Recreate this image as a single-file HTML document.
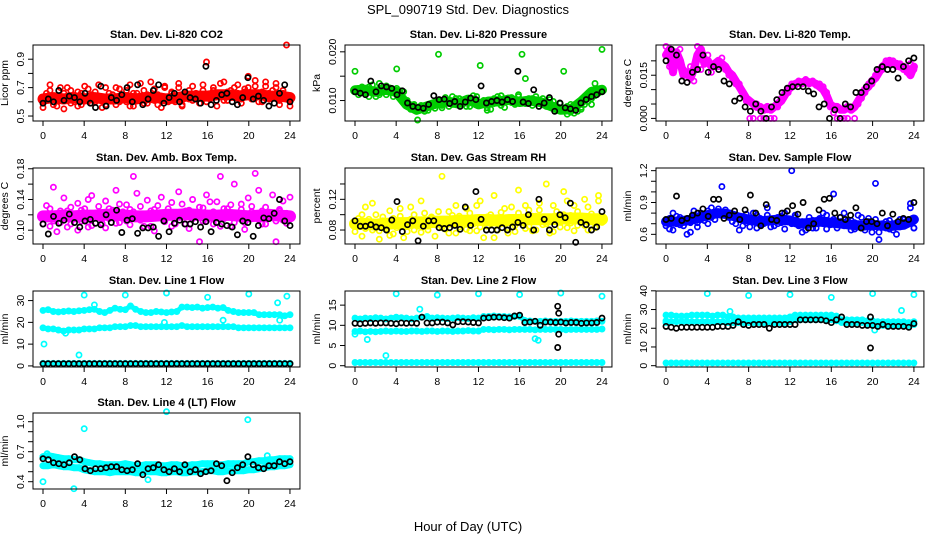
<!DOCTYPE html>
<html><head><meta charset="utf-8">
<style>
html,body{margin:0;padding:0;background:#fff;}
svg{display:block;font-family:"Liberation Sans",sans-serif;}
</style></head>
<body>
<svg id="chart" width="936" height="540" viewBox="0 0 936 540" xmlns="http://www.w3.org/2000/svg">
<rect x="0" y="0" width="936" height="540" fill="#fff"/>
<text x="468" y="14" text-anchor="middle" font-size="13">SPL_090719  Std. Dev. Diagnostics</text>
<text x="468" y="531" text-anchor="middle" font-size="13">Hour of Day (UTC)</text>
</svg>
<script>
// ---------- DATA ----------
const hourTicks = [0,4,8,12,16,20,24];

const co2Center = [0.62,0.63,0.62,0.63,0.62,0.63,0.62,0.62,0.63,0.62,0.63,0.63,0.62,0.63,0.64,0.64,0.64,0.65,0.65,0.64,0.65,0.65,0.64,0.64,0.63];
const co2A = [0.60,0.66,0.72,0.58,0.63,0.70,0.55,0.64,0.68,0.60,0.57,0.66,0.71,0.62,0.59,0.67,0.64,0.56,0.70,0.61,0.65,0.58,0.69,0.63,0.60,0.72,0.57,0.66,0.62,0.68,0.59,0.74,0.61,0.65,0.56,0.70,0.63,0.67,0.60,0.73,0.58,0.66,0.62,0.71,0.64,0.59,0.68,0.88,0.63,0.70,0.57,0.66,0.74,0.61,0.68,0.64,0.72,0.59,0.67,0.70,0.62,0.75,0.65,0.60,0.71,0.66,0.63,0.73,0.58,0.68,0.64,0.62];
const co2B = [0.56,0.62,0.68,0.64,0.57,0.61,0.66,0.70,0.59,0.63,0.67,0.58,0.62,0.69,0.65,0.60,0.72,0.63,0.58,0.66,0.62,0.70,0.60,0.64,0.68,0.57,0.66,0.61,0.73,0.59,0.65,0.62,0.69,0.58,0.64,0.71,0.60,0.66,0.63,0.70,0.57,0.64,0.68,0.61,0.66,0.63,0.72,0.60,0.62,0.68,0.65,0.73,0.61,0.67,0.63,0.70,0.66,0.62,0.69,0.78,0.64,0.71,0.60,0.67,0.74,0.62,0.68,0.70,0.61,0.66,1.0,0.57];
const co2Black = [0.59,0.62,0.60,0.68,0.61,0.64,0.63,0.60,0.66,0.59,0.56,0.71,0.57,0.63,0.61,0.65,0.70,0.60,0.72,0.58,0.62,0.68,0.72,0.59,0.63,0.66,0.60,0.67,0.63,0.62,0.59,0.85,0.58,0.61,0.65,0.66,0.60,0.58,0.63,0.77,0.62,0.64,0.61,0.57,0.59,0.66,0.72,0.60];

const presCenter = [0.0121,0.0122,0.0118,0.0122,0.0118,0.0092,0.0081,0.0088,0.0095,0.0098,0.0094,0.0102,0.0092,0.0098,0.0098,0.0102,0.0097,0.0100,0.0097,0.0089,0.0081,0.0082,0.0098,0.0118,0.0122];
const presA = [0.0120,0.0125,0.0118,0.0115,0.0128,0.0122,0.0118,0.0112,0.0125,0.0130,0.0120,0.0116,0.0125,0.0112,0.0118,0.0095,0.0088,0.0092,0.0080,0.0085,0.0078,0.0088,0.0092,0.0084,0.0095,0.0090,0.0100,0.0098,0.0092,0.0104,0.0095,0.0100,0.0088,0.0102,0.0096,0.0108,0.0092,0.0100,0.0085,0.0098,0.0094,0.0102,0.0090,0.0100,0.0105,0.0096,0.0102,0.0108,0.0100,0.0094,0.0098,0.0104,0.0096,0.0100,0.0092,0.0098,0.0102,0.0090,0.0084,0.0094,0.0080,0.0088,0.0076,0.0082,0.0078,0.0086,0.0092,0.0098,0.0104,0.0110,0.0118,0.0125];
const presB = [0.0160,0.0112,0.0128,0.0125,0.0108,0.0132,0.0108,0.0135,0.0120,0.0112,0.0126,0.0108,0.0165,0.0120,0.0105,0.0100,0.0082,0.0090,0.0060,0.0090,0.0082,0.0080,0.0094,0.0090,0.0195,0.0085,0.0106,0.0088,0.0108,0.0096,0.0104,0.0092,0.0098,0.0088,0.0110,0.0100,0.0172,0.0094,0.0080,0.0082,0.0104,0.0108,0.0110,0.0086,0.0098,0.0106,0.0092,0.0112,0.0195,0.0145,0.0104,0.0090,0.0108,0.0096,0.0104,0.0088,0.0096,0.0098,0.0088,0.0082,0.0160,0.0072,0.0092,0.0074,0.0090,0.0082,0.0102,0.0112,0.0092,0.0135,0.0115,0.0205];
const presBlack = [0.0118,0.0115,0.0112,0.0140,0.0118,0.0130,0.0128,0.0125,0.0112,0.0120,0.0095,0.0088,0.0086,0.0084,0.0092,0.0110,0.0102,0.0103,0.0094,0.0098,0.0088,0.0097,0.0105,0.0102,0.0130,0.0095,0.0098,0.0100,0.0097,0.0102,0.0098,0.0160,0.0097,0.0094,0.0122,0.0088,0.0095,0.0106,0.0078,0.0095,0.0085,0.0083,0.0080,0.0095,0.0102,0.0108,0.0112,0.0118];

const tempA = [0.022,0.024,0.016,0.023,0.020,0.015,0.016,0.014,0.017,0.022,0.024,0.019,0.020,0.018,0.019,0.020,0.019,0.018,0.016,0.015,0.013,0.011,0.009,0.007,0.006,0.005,0.004,0.004,0.003,0.004,0.003,0.004,0.005,0.006,0.008,0.010,0.011,0.012,0.0125,0.0125,0.013,0.0125,0.0125,0.012,0.011,0.010,0.008,0.005,0.004,0.004,0.003,0.003,0.004,0.003,0.004,0.006,0.008,0.010,0.011,0.013,0.014,0.016,0.018,0.019,0.020,0.019,0.019,0.018,0.018,0.017,0.015,0.018];
const tempB = [0.025,0.018,0.021,0.019,0.024,0.017,0.015,0.018,0.013,0.025,0.017,0.021,0.022,0.016,0.018,0.018,0.021,0.017,0.015,0.014,0.012,0.012,0.008,0.006,0.000,0.000,0.005,0.000,0.000,0.003,0.000,0.000,0.004,0.007,0.009,0.009,0.012,0.0115,0.013,0.012,0.0135,0.012,0.013,0.0115,0.012,0.011,0.009,0.004,0.002,0.000,0.000,0.000,0.000,0.004,0.000,0.005,0.007,0.009,0.012,0.012,0.015,0.017,0.017,0.020,0.019,0.020,0.018,0.019,0.017,0.016,0.019,0.017];
const tempBlack = [0.020,0.024,0.022,0.013,0.0125,0.016,0.017,0.022,0.016,0.018,0.017,0.013,0.012,0.006,0.007,0.004,0.0025,0.005,0.0025,0.000,0.004,0.0065,0.009,0.0105,0.011,0.011,0.011,0.0095,0.0085,0.004,0.005,0.000,0.003,0.000,0.005,0.004,0.009,0.009,0.011,0.013,0.017,0.018,0.017,0.017,0.014,0.018,0.020,0.021];

const ambCenter = [0.118,0.118,0.119,0.118,0.119,0.119,0.120,0.120,0.119,0.118,0.118,0.119,0.120,0.120,0.121,0.120,0.119,0.119,0.120,0.119,0.118,0.119,0.120,0.119,0.118];
const ambA = [0.115,0.132,0.105,0.156,0.120,0.110,0.142,0.125,0.108,0.118,0.135,0.112,0.128,0.104,0.145,0.118,0.122,0.109,0.138,0.115,0.126,0.152,0.110,0.119,0.133,0.107,0.124,0.148,0.113,0.120,0.139,0.105,0.127,0.116,0.143,0.111,0.122,0.136,0.108,0.150,0.119,0.125,0.102,0.140,0.117,0.130,0.112,0.146,0.121,0.108,0.137,0.170,0.115,0.128,0.105,0.160,0.119,0.134,0.110,0.142,0.124,0.117,0.152,0.108,0.130,0.120,0.146,0.112,0.125,0.138,0.109,0.143];
const ambB = [0.108,0.120,0.128,0.112,0.098,0.125,0.117,0.104,0.130,0.121,0.100,0.126,0.113,0.140,0.106,0.122,0.131,0.115,0.103,0.128,0.119,0.109,0.134,0.124,0.112,0.127,0.170,0.118,0.131,0.105,0.116,0.125,0.099,0.132,0.121,0.114,0.128,0.105,0.123,0.117,0.134,0.108,0.126,0.115,0.120,0.085,0.129,0.112,0.137,0.124,0.116,0.105,0.128,0.118,0.133,0.110,0.122,0.127,0.101,0.119,0.131,0.174,0.114,0.125,0.108,0.121,0.116,0.085,0.127,0.113,0.122,0.118];
const ambBlack = [0.108,0.095,0.118,0.109,0.113,0.121,0.110,0.104,0.112,0.114,0.109,0.107,0.120,0.110,0.126,0.097,0.113,0.115,0.096,0.103,0.103,0.104,0.092,0.112,0.098,0.109,0.113,0.108,0.108,0.111,0.104,0.111,0.098,0.110,0.108,0.106,0.104,0.094,0.112,0.110,0.092,0.106,0.116,0.115,0.122,0.140,0.112,0.106];

const rhCenter = [0.088,0.088,0.087,0.088,0.089,0.089,0.090,0.090,0.091,0.091,0.092,0.092,0.093,0.093,0.092,0.093,0.093,0.094,0.094,0.094,0.095,0.095,0.095,0.094,0.094];
const rhA = [0.085,0.095,0.072,0.110,0.088,0.080,0.100,0.068,0.092,0.082,0.105,0.075,0.090,0.098,0.070,0.087,0.110,0.080,0.093,0.077,0.102,0.085,0.096,0.072,0.089,0.150,0.081,0.104,0.090,0.076,0.098,0.086,0.108,0.079,0.093,0.112,0.084,0.070,0.097,0.088,0.125,0.080,0.103,0.091,0.076,0.110,0.086,0.132,0.094,0.082,0.106,0.079,0.098,0.115,0.087,0.140,0.093,0.078,0.104,0.090,0.130,0.083,0.099,0.112,0.086,0.095,0.120,0.080,0.101,0.089,0.125,0.092];
const rhB = [0.078,0.090,0.100,0.082,0.094,0.115,0.086,0.079,0.097,0.088,0.073,0.095,0.083,0.108,0.089,0.078,0.094,0.100,0.085,0.118,0.091,0.080,0.097,0.087,0.104,0.083,0.092,0.076,0.099,0.112,0.084,0.095,0.081,0.102,0.088,0.079,0.118,0.093,0.085,0.100,0.070,0.096,0.088,0.108,0.083,0.095,0.078,0.102,0.090,0.112,0.085,0.098,0.080,0.106,0.092,0.088,0.076,0.112,0.095,0.084,0.100,0.118,0.089,0.079,0.104,0.094,0.086,0.110,0.095,0.083,0.118,0.090];
const rhBlack = [0.092,0.085,0.085,0.087,0.084,0.083,0.080,0.093,0.117,0.078,0.087,0.092,0.066,0.085,0.092,0.092,0.083,0.082,0.083,0.086,0.081,0.110,0.086,0.130,0.094,0.080,0.080,0.080,0.083,0.080,0.084,0.090,0.086,0.100,0.080,0.120,0.094,0.080,0.087,0.100,0.096,0.115,0.064,0.090,0.087,0.080,0.084,0.104];

const sfCenter = [0.72,0.72,0.73,0.75,0.78,0.80,0.79,0.76,0.74,0.72,0.73,0.74,0.73,0.70,0.71,0.72,0.71,0.70,0.69,0.68,0.69,0.68,0.68,0.69,0.74];
const sfA = [0.72,0.65,0.80,0.70,0.76,0.68,0.74,0.62,0.78,0.71,0.80,0.73,0.82,0.76,0.80,0.84,0.78,0.83,0.80,0.76,0.70,0.74,0.68,0.79,0.72,0.80,0.66,0.75,0.70,0.78,0.73,0.68,0.76,0.71,0.80,0.74,1.20,0.76,0.70,0.72,0.64,0.69,0.73,0.66,0.75,0.70,0.78,0.69,0.74,0.66,0.72,0.80,0.68,0.73,0.65,0.70,0.76,0.64,0.72,0.68,0.74,0.62,0.70,0.66,0.73,0.64,0.71,0.67,0.74,0.70,0.85,0.66];
const sfB = [0.68,0.75,0.64,0.77,0.69,0.73,0.60,0.71,0.82,0.67,0.74,0.78,0.70,0.85,0.74,0.79,1.05,0.81,0.76,0.72,0.78,0.64,0.75,0.71,0.67,0.74,0.78,0.69,0.72,0.85,0.67,0.74,0.70,0.77,0.65,0.73,0.70,0.78,0.68,0.62,0.71,0.76,0.66,0.70,0.74,0.80,0.65,0.72,0.98,0.70,0.76,0.68,0.73,0.64,0.71,0.78,0.66,0.69,0.75,0.62,1.08,0.55,0.68,0.72,0.65,0.70,0.60,0.74,0.68,0.72,0.89,0.66];
const sfBlack = [0.74,0.75,0.96,0.73,0.75,0.78,0.80,0.84,0.77,0.93,0.93,0.75,0.78,0.82,0.74,0.83,0.97,0.80,0.68,0.88,0.74,0.73,0.80,0.82,0.87,0.79,0.90,0.66,0.70,0.83,0.93,0.94,0.80,0.76,0.74,0.78,0.85,0.66,0.72,0.72,0.70,0.80,0.68,0.79,0.72,0.75,0.74,0.90];

const l1Upper = [25.5,25.8,25,24.8,25,25.2,25,25.3,25.5,25.8,26,25,24.5,25.5,26.5,26,25.8,27.5,26,25,24.5,24.5,25,24.8,24.5,24.8,25,27,27,26.8,27,26.5,26.8,27,26.5,26.8,25.5,25,24.5,24.5,24.5,24.5,23.5,23.5,23.5,23.5,23.5,23,23.5];
const l1Middle = [17.5,17,17,16.5,16,16.5,16.5,16.5,17,17,17,17.5,17.5,17.5,18,18,18,18.5,18.5,18,18,18,18,18,18,18,18,18.5,18,18,18,18,18,18,18,18,18,18,17.5,17.5,17.5,17.5,17.5,17.5,17.5,17.5,17.5,17.5,17.5];
const l1Lower = [1.2,1.2,1.2,1.2,1.2,1.2,1.2,1.2,1.2,1.2,1.2,1.2,1.2,1.2,1.2,1.2,1.2,1.2,1.2,1.2,1.2,1.2,1.2,1.2,1.2,1.2,1.2,1.2,1.2,1.2,1.2,1.2,1.2,1.2,1.2,1.2,1.2,1.2,1.2,1.2,1.2,1.2,1.2,1.2,1.2,1.2,1.2,1.2,1.2];
const l1Black = [1.0,1.0,1.0,1.0,1.0,1.0,1.0,1.0,1.0,1.0,1.0,1.0,1.0,1.0,1.0,1.0,1.0,1.0,1.0,1.0,1.0,1.0,1.0,1.0,1.0,1.0,1.0,1.0,1.0,1.0,1.0,1.0,1.0,1.0,1.0,1.0,1.0,1.0,1.0,1.0,1.0,1.0,1.0,1.0,1.0,1.0,1.0,1.0,1.0];
const l1OutHours = [0.1,3.5,4,8,12,16,20,23.7,2.2,5,11.8,17.5,22.8,23];
const l1OutVals = [10,5,32.5,32.5,33.5,31.5,33,32,15,28,20,21,29,21];

const l2Upper = [11.8,11.6,11.8,11.7,11.9,11.8,11.6,11.8,12,11.9,11.8,11.6,11.8,12,12.2,11.8,11.9,11.8,11.7,11.8,11.9,11.8,11.7,11.9,11.8,12.2,12.2,12.3,12.2,12.2,12.1,12.2,12.2,11.2,11.1,11,11,11.1,11,11,11,11,11.1,11,11,11,11,11.1,11];
const l2Middle = [8.5,8.6,8.4,8.5,8.4,8.5,8.6,8.5,8.6,8.5,8.5,8.6,8.6,8.5,8.6,8.6,8.5,8.6,8.6,8.5,8.6,8.6,8.7,8.6,8.6,9,9,8.9,9,9,8.9,9,9,9,9,8.9,9,9,9,9,9,8.9,9,9,9,9,9,9,9.1];
const l2Lower = [0.8,0.8,0.8,0.8,0.8,0.8,0.8,0.8,0.8,0.8,0.8,0.8,0.8,0.8,0.8,0.8,0.8,0.8,0.8,0.8,0.8,0.8,0.8,0.8,0.8,0.8,0.8,0.8,0.8,0.8,0.8,0.8,0.8,0.8,0.8,0.8,0.8,0.8,0.8,0.8,0.8,0.8,0.8,0.8,0.8,0.8,0.8,0.8,0.8];
const l2Black = [10.5,10.4,10.5,10.6,10.5,10.6,10.6,10.5,10.4,10.6,10.5,10.6,10.5,12,10.6,10.6,10.8,10.8,10.6,10.1,10.9,10.9,10.8,10.7,10.6,11.8,11.9,12,12,11.9,11.8,12.3,12.5,10.7,10.8,11,10,10.8,10.8,10.7,10.8,10.6,10.7,10.7,10.5,10.6,10.6,10.7,11.8];
const l2OutHours = [4,8,12,16,20,24,6.3,3,1.2,17.5,0,17.8];
const l2OutVals = [17.8,17.5,17.8,17.6,18,17.2,14,2.5,6.5,6.7,7.8,6.3];
const l2BlackOutHours = [19.7,19.8,19.8,19.7];
const l2BlackOutVals = [14.7,13,7.8,4.5];

const l3Upper = [27,27,26.5,26.5,26.5,27,27,27,27,26.5,27,27,26,26,25.5,25.5,25.5,25.5,25.5,25.5,25.5,25.5,25.5,25.5,26,27,27,27,27,27,27,27,27,26.5,24.5,24.5,24.5,24.5,24.5,24,24,23.5,23.5,23.5,23.5,23.5,23.5,23,23.5];
const l3Lower = [24,23.5,23.5,23.5,23.5,23.5,23.5,23.5,23.5,23.5,23.5,23.5,23,23,23,23,23,23,23,23,23,23,23,23,23.5,24.5,24.5,24.5,24.5,24.5,24.5,24.5,24.5,24,23,23,23,23,23,22.5,22,21.5,21.5,21.5,21.5,21.5,21.5,21.5,22];
const l3Bottom = [1.5,1.5,1.5,1.5,1.5,1.5,1.5,1.5,1.5,1.5,1.5,1.5,1.5,1.5,1.5,1.5,1.5,1.5,1.5,1.5,1.5,1.5,1.5,1.5,1.5,1.5,1.5,1.5,1.5,1.5,1.5,1.5,1.5,1.5,1.5,1.5,1.5,1.5,1.5,1.5,1.5,1.5,1.5,1.5,1.5,1.5,1.5,1.5,1.5];
const l3Black = [21,20.5,20,20.5,20.5,20.5,20.5,20.5,20.5,20.5,21,21,21,21.5,23.5,22,21.5,22,22,22,20,22,22,22,22,22,24.5,24.5,24.5,24.5,24.5,24,23,24.5,26,22,22,22,21.5,21.5,21.5,21,22,21,21,21,21,20.5,22.5];
const l3OutHours = [4,8,12,16,20,24,6.2,22.8,20.2,0];
const l3OutVals = [38.5,37.5,38,36.5,38.5,38,29,29.5,19,23];
const l3BlackOutHours = [19.8,19.8];
const l3BlackOutVals = [9.5,26];

const l4Upper = [0.65,0.66,0.65,0.64,0.63,0.63,0.62,0.62,0.60,0.59,0.58,0.58,0.57,0.57,0.57,0.57,0.58,0.57,0.56,0.56,0.57,0.57,0.57,0.56,0.56,0.57,0.57,0.56,0.56,0.57,0.57,0.58,0.58,0.58,0.57,0.57,0.58,0.58,0.58,0.58,0.60,0.60,0.61,0.61,0.62,0.62,0.63,0.63,0.63];
const l4Lower = [0.56,0.56,0.57,0.56,0.55,0.55,0.54,0.54,0.52,0.51,0.50,0.50,0.50,0.49,0.50,0.50,0.50,0.50,0.49,0.49,0.50,0.50,0.50,0.49,0.49,0.50,0.50,0.49,0.49,0.50,0.50,0.50,0.51,0.51,0.50,0.50,0.51,0.51,0.51,0.51,0.52,0.52,0.53,0.54,0.55,0.55,0.56,0.56,0.57];
const l4Black = [0.63,0.62,0.59,0.58,0.57,0.59,0.65,0.62,0.53,0.51,0.53,0.53,0.54,0.55,0.55,0.52,0.51,0.52,0.58,0.47,0.53,0.54,0.57,0.52,0.50,0.53,0.50,0.57,0.50,0.52,0.48,0.50,0.51,0.58,0.56,0.41,0.49,0.54,0.57,0.65,0.57,0.54,0.53,0.56,0.56,0.60,0.58,0.60];
const l4OutHours = [0,0.4,3,4,10.2,12,19.9,21.8];
const l4OutVals = [0.40,0.68,0.33,0.93,0.42,1.1,1.02,0.66];

// ---------- LAYOUT ----------
const colX0 = [43,355,666];
const colPPH = [10.29,10.29,10.33];
const rowTop = [45,168,291,413];
const boxH = 76;

const panels = [
 {name:'co2', title:'Stan. Dev. Li-820 CO2', ylab:'Licor ppm', col:0,row:0, dom:[0.465,1.0], ticks:[0.5,0.6,0.7,0.8,0.9], labels:['0.5','','0.7','','0.9'],
  series:[{v:co2Center,c:'#ff0000',band:true,w:11,noPts:true},{v:co2A,c:'#ff0000'},{v:co2B,c:'#ff0000'},{v:co2Black,c:'#000'}]},
 {name:'pressure', title:'Stan. Dev. Li-820 Pressure', ylab:'kPa', col:1,row:0, dom:[0.0058,0.0214], ticks:[0.010,0.015,0.020], labels:['0.010','','0.020'],
  series:[{v:presCenter,c:'#00cc00',band:true,w:10,noPts:true},{v:presA,c:'#00cc00'},{v:presB,c:'#00cc00'},{v:presBlack,c:'#000'}]},
 {name:'temp', title:'Stan. Dev. Li-820 Temp.', ylab:'degrees C', col:2,row:0, dom:[-0.0009,0.0255], ticks:[0,0.005,0.010,0.015,0.020], labels:['0.000','','','0.015',''],
  series:[{v:tempA,c:'#ff00ff',band:true,w:8},{v:tempB,c:'#ff00ff'},{v:tempBlack,c:'#000'}]},
 {name:'amb-box-temp', title:'Stan. Dev. Amb. Box Temp.', ylab:'degrees C', col:0,row:1, dom:[0.082,0.181], ticks:[0.10,0.12,0.14,0.16,0.18], labels:['0.10','','0.14','','0.18'],
  series:[{v:ambCenter,c:'#ff00ff',band:true,w:12,noPts:true},{v:ambA,c:'#ff00ff'},{v:ambB,c:'#ff00ff'},{v:ambBlack,c:'#000'}]},
 {name:'gas-rh', title:'Stan. Dev. Gas Stream RH', ylab:'percent', col:1,row:1, dom:[0.0618,0.1608], ticks:[0.08,0.10,0.12,0.14], labels:['0.08','','0.12',''],
  series:[{v:rhCenter,c:'#ffff00',band:true,w:12,noPts:true},{v:rhA,c:'#ffff00'},{v:rhB,c:'#ffff00'},{v:rhBlack,c:'#000'}]},
 {name:'sample-flow', title:'Stan. Dev. Sample Flow', ylab:'ml/min', col:2,row:1, dom:[0.509,1.225], ticks:[0.6,0.7,0.8,0.9,1.0,1.1,1.2], labels:['0.6','','','0.9','','','1.2'],
  series:[{v:sfCenter,c:'#0000ff',band:true,w:10,noPts:true},{v:sfA,c:'#0000ff'},{v:sfB,c:'#0000ff'},{v:sfBlack,c:'#000'}]},
 {name:'line1-flow', title:'Stan. Dev. Line 1 Flow', ylab:'ml/min', col:0,row:2, dom:[-0.5,34.4], ticks:[0,10,20,30], labels:['0','10','20','30'],
  series:[{v:l1Upper,c:'#00ffff',band:true,w:5},{v:l1Middle,c:'#00ffff',band:true,w:5},{v:l1Lower,c:'#00ffff',band:true,w:4},{v:l1Black,c:'#000'},{h:l1OutHours,v:l1OutVals,c:'#00ffff'}]},
 {name:'line2-flow', title:'Stan. Dev. Line 2 Flow', ylab:'ml/min', col:1,row:2, dom:[-0.32,18.5], ticks:[0,5,10,15], labels:['0','5','10','15'],
  series:[{v:l2Upper,c:'#00ffff',band:true,w:5},{v:l2Middle,c:'#00ffff',band:true,w:5},{v:l2Lower,c:'#00ffff',band:true,w:4},{h:l2OutHours,v:l2OutVals,c:'#00ffff'},{v:l2Black,c:'#000'},{h:l2BlackOutHours,v:l2BlackOutVals,c:'#000'}]},
 {name:'line3-flow', title:'Stan. Dev. Line 3 Flow', ylab:'ml/min', col:2,row:2, dom:[-0.7,39.9], ticks:[0,10,20,30,40], labels:['0','10','20','30','40'],
  series:[{v:l3Upper,c:'#00ffff',band:true,w:5},{v:l3Lower,c:'#00ffff',band:true,w:5},{v:l3Bottom,c:'#00ffff',band:true,w:4},{h:l3OutHours,v:l3OutVals,c:'#00ffff'},{v:l3Black,c:'#000'},{h:l3BlackOutHours,v:l3BlackOutVals,c:'#000'}]},
 {name:'line4-flow', title:'Stan. Dev. Line 4 (LT) Flow', ylab:'ml/min', col:0,row:3, dom:[0.327,1.087], ticks:[0.4,0.5,0.6,0.7,0.8,0.9,1.0], labels:['0.4','','','0.7','','','1.0'],
  series:[{v:l4Upper,c:'#00ffff',band:true,w:7},{v:l4Lower,c:'#00ffff',band:true,w:7},{h:l4OutHours,v:l4OutVals,c:'#00ffff'},{v:l4Black,c:'#000'}]}
];

// ---------- DRAW ----------
const NS = 'http://www.w3.org/2000/svg';
const svg = document.getElementById('chart');
function mk(tag, attrs, parent){
  const e = document.createElementNS(NS, tag);
  for (const k in attrs) e.setAttribute(k, attrs[k]);
  parent.appendChild(e);
  return e;
}

panels.forEach(p => {
  const x0 = colX0[p.col], pph = colPPH[p.col];
  const top = rowTop[p.row], bot = top + boxH;
  const left = x0 - 10, right = x0 + 24*pph + 10;
  const xs = h => x0 + h*pph;
  const ys = v => bot - (v - p.dom[0]) / (p.dom[1] - p.dom[0]) * boxH;

  const g = mk('g', {}, svg);
  
  

  const t = mk('text', {x:(left+right)/2, y:top-7, 'text-anchor':'middle', 'font-size':'11', 'font-weight':'bold'}, g);
  t.textContent = p.title;
  
  

  const yl = mk('text', {x:0, y:0, 'text-anchor':'middle', 'font-size':'10.5', transform:`translate(${left-25},${(top+bot)/2}) rotate(-90)`}, g);
  yl.textContent = p.ylab;
  
  

  const marks = mk('g', {}, g);
  
  

  p.series.forEach(s => {
    const n = s.v.length;
    const hourOf = i => s.h ? s.h[i] : i*24/(n-1);
    if (s.band) {
      const pts = s.v.map((v,i) => xs(hourOf(i)).toFixed(1)+','+ys(v).toFixed(1)).join(' ');
      const pl = mk('polyline', {points:pts, fill:'none', stroke:s.c, 'stroke-width':s.w, 'stroke-linejoin':'round', 'stroke-linecap':'round'}, marks);
      
      
    }
    if (s.noPts) return;
    s.v.forEach((v,i) => {
      const c = mk('circle', {cx:xs(hourOf(i)).toFixed(1), cy:ys(v).toFixed(1), r:2.6, fill:'none', stroke:s.c, 'stroke-width':1.7}, marks);
      
      
    });
  });

  const box = mk('rect', {x:left, y:top, width:right-left, height:boxH, fill:'none', stroke:'#000', 'stroke-width':1}, g);
  
  

  hourTicks.forEach(h => {
    const tk = mk('line', {x1:xs(h), x2:xs(h), y1:bot, y2:bot+5, stroke:'#000'}, g);
    
    
    const tl = mk('text', {x:xs(h), y:bot+18, 'text-anchor':'middle', 'font-size':'10.5'}, g);
    tl.textContent = h;
    
    
  });

  p.ticks.forEach((v,i) => {
    const yy = ys(v);
    const tk = mk('line', {x1:left-5, x2:left, y1:yy, y2:yy, stroke:'#000'}, g);
    
    
    if (p.labels[i]) {
      const tl = mk('text', {x:0, y:0, 'text-anchor':'middle', 'font-size':'10.5', transform:`translate(${left-9},${yy}) rotate(-90)`}, g);
      tl.textContent = p.labels[i];
      
      
    }
  });
});
</script>
</body></html>
